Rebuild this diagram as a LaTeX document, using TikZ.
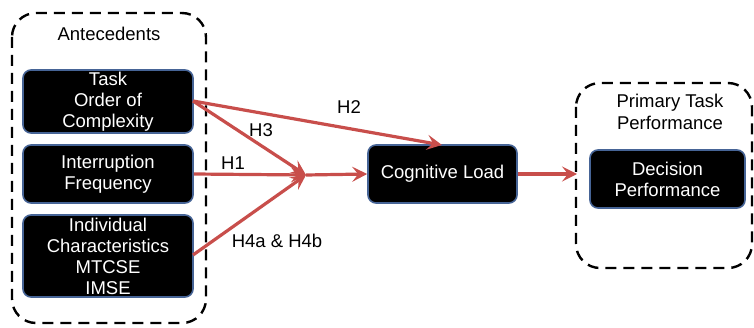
\documentclass[tikz,border=0pt]{standalone}
\usepackage{fontspec}
\setmainfont{Liberation Sans}
\usetikzlibrary{arrows.meta}
\definecolor{arr}{RGB}{200,78,75}
\definecolor{bord}{RGB}{70,100,150}
\begin{document}
\begin{tikzpicture}[x=1pt,y=-1pt,
  grp/.style={draw=black,line width=2.4pt,dash pattern=on 11pt off 7pt,rounded corners=24pt},
  blk/.style={draw=bord,line width=1.6pt,fill=black,rounded corners=8pt,text=white,align=center,font=\fontsize{18.5}{21}\selectfont,inner sep=0pt},
  lbl/.style={font=\fontsize{18.5}{22}\selectfont,align=center,text=black},
  con/.style={draw=arr,line width=3.2pt,-{Stealth[length=15pt,width=15pt,inset=6pt]}},
  lin/.style={draw=arr,line width=3.2pt}]
\useasboundingbox (0,0) rectangle (754,328);
\draw[grp] (12,13) rectangle (206,323);
\draw[grp] (576,83) rectangle (752,268);
\node[lbl] (ant) at (109,34) {Antecedents};
\node[lbl] (ptp) at (670,112) {Primary Task\\Performance};
\node[blk,minimum width=170pt,minimum height=63pt] (task) at (108,101.5) {Task\\Order of\\Complexity};
\node[blk,minimum width=170pt,minimum height=58pt] (intr) at (108,174) {Interruption\\Frequency};
\node[blk,minimum width=170pt,minimum height=82pt] (ind) at (108,256) {Individual\\Characteristics\\MTCSE\\IMSE};
\node[blk,minimum width=149pt,minimum height=58pt] (cog) at (442.5,174) {Cognitive Load};
\node[blk,minimum width=155pt,minimum height=58pt] (dec) at (667.5,179) {Decision\\Performance};
\coordinate (conv) at (306,175);
\coordinate (ts) at (193,101);
\coordinate (is) at (193,255);
\coordinate (cogtop) at (442,145);
\coordinate (rb) at (577,174);
\draw[con] (ts) -- (conv);
\draw[con] (intr.east) -- (conv);
\draw[con] (is) -- (conv);
\draw[con] (conv) -- (cog.west);
\draw[con] (ts) -- (cogtop);
\draw[con] (cog.east) -- (rb);
\node[lbl] (h2) at (349,107) {H2};
\node[lbl] (h3) at (261,130) {H3};
\node[lbl] (h1) at (233,163) {H1};
\node[lbl] (h4) at (277,241) {H4a \& H4b};
\end{tikzpicture}
\end{document}
